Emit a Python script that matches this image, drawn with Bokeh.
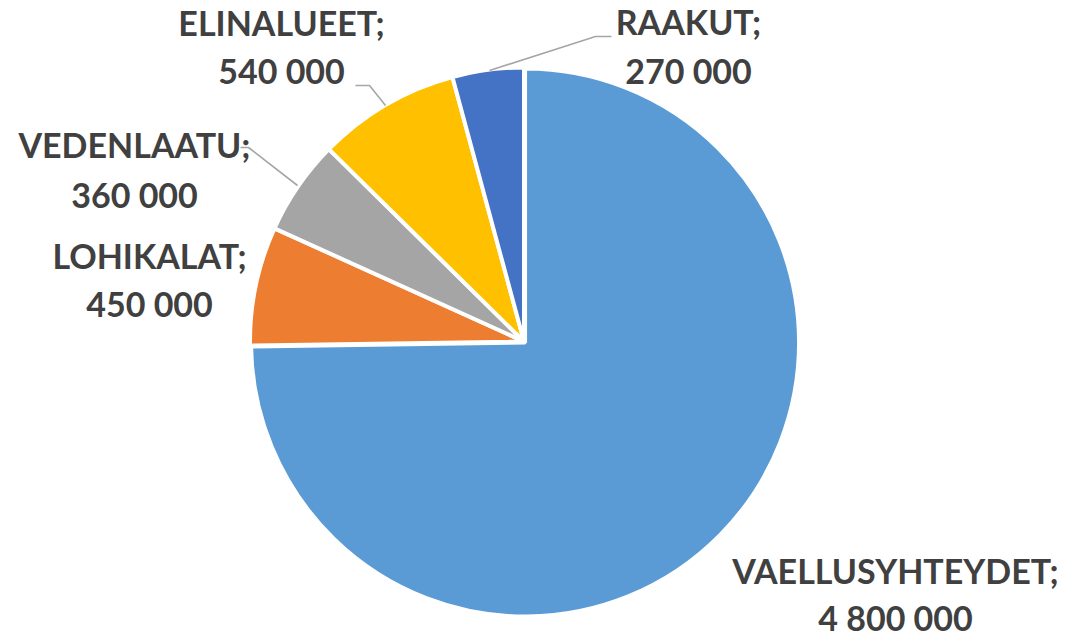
import numpy as np
from bokeh.plotting import figure
from bokeh.models import Range1d, ColumnDataSource
from bokeh.core.properties import value
from bokeh.embed import file_html
from bokeh.resources import INLINE

# ---- data ----
categories = ["VAELLUSYHTEYDET", "LOHIKALAT", "VEDENLAATU", "ELINALUEET", "RAAKUT"]
values = [4800000, 450000, 360000, 540000, 270000]
colors = ["#5B9BD5", "#ED7D31", "#A5A5A5", "#FFC000", "#4472C4"]

def fmt(v):
    return f"{v:,}".replace(",", " ")

# ---- layout constants (screen px, y measured from top) ----
W, H = 1081, 637
CX, CY, R = 523.5, 341.0, 274.0
EXPLODE = [1.5, 0, 0, 0, 0]
TEXT_SHIFT = -16

# label line positions: (center x, baseline of line1, baseline of line2)
label_pos = {
    "VAELLUSYHTEYDET": (895, 586, 633),
    "LOHIKALAT": (149, 271, 319),
    "VEDENLAATU": (134, 160, 210),
    "ELINALUEET": (281, 38, 86),
    "RAAKUT": (688, 37, 86),
}
leaders = {
    "ELINALUEET": [(355, 85), (369, 85), (385, 105)],
    "VEDENLAATU": [(240, 147), (248, 147), (297, 185)],
    "RAAKUT": [(489, 70), (595, 36), (611, 36)],
}

def fy(y):
    return H - y

p = figure(width=W, height=H, output_backend="svg", toolbar_location=None,
           x_range=Range1d(0, W), y_range=Range1d(0, H), min_border=0)
p.axis.visible = False
p.grid.visible = False
p.outline_line_color = None
p.background_fill_color = "white"
p.border_fill_color = "white"

vals = np.array(values, dtype=float)
frac = vals / vals.sum()
cum = np.concatenate([[0], np.cumsum(frac)])
start_cw = cum[:-1]
end_cw = cum[1:]
# Excel style: start at 12 o'clock, clockwise
a_start = np.pi / 2 - 2 * np.pi * end_cw
a_end = np.pi / 2 - 2 * np.pi * start_cw
mid = (a_start + a_end) / 2
xs = CX + np.array(EXPLODE) * np.cos(mid)
ys = fy(CY) + np.array(EXPLODE) * np.sin(mid)

src = ColumnDataSource(dict(x=xs, y=ys, s=a_start, e=a_end, c=colors, cat=categories))
p.wedge(x="x", y="y", radius=R, start_angle="s", end_angle="e", direction="anticlock",
        fill_color="c", line_color="white", line_width=4, source=src)

for cat, pts in leaders.items():
    p.line([q[0] for q in pts], [fy(q[1]) for q in pts], line_color="#A6A6A6", line_width=1.6)

t1x, t1y, t2y, l1, l2 = [], [], [], [], []
for cat, v in zip(categories, values):
    cx, b1, b2 = label_pos[cat]
    t1x.append(cx); t1y.append(fy(b1 + TEXT_SHIFT)); t2y.append(fy(b2 + TEXT_SHIFT))
    l1.append(cat + ";"); l2.append(fmt(v))

for ys_, txt in ((t1y, l1), (t2y, l2)):
    p.text(x=t1x, y=ys_, text=txt, text_font=value("Lato"), text_font_style="bold",
           text_font_size="34px", text_color="#404040", text_align="center",
           text_baseline="alphabetic")

open("out.html", "w").write(file_html(p, INLINE))
